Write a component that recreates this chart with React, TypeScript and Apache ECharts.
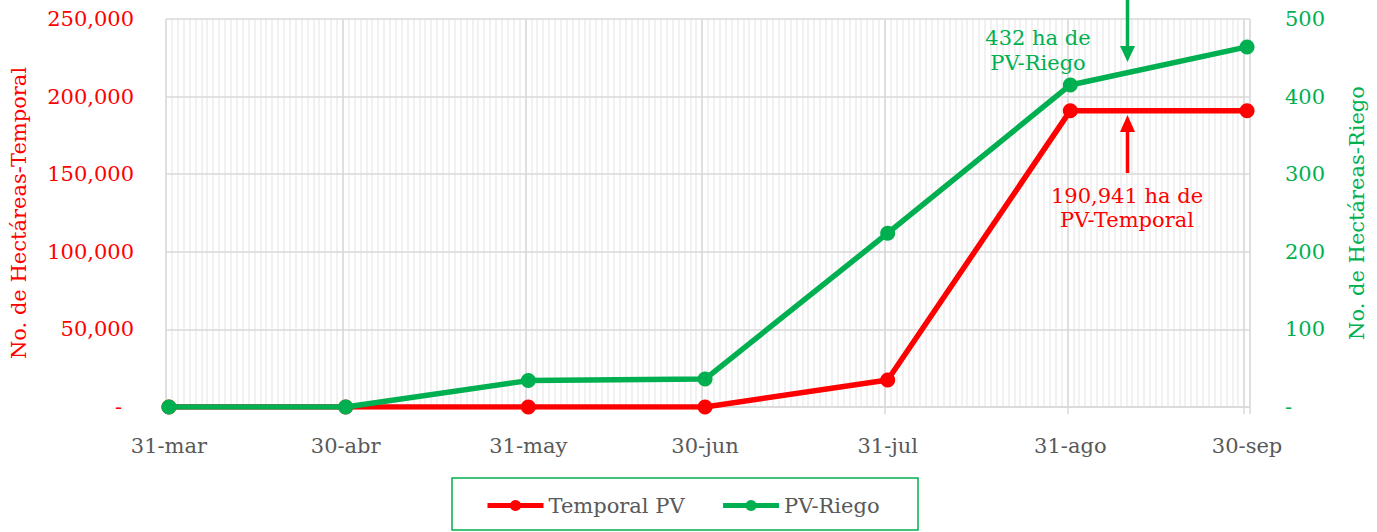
import React, { useEffect, useRef } from "react";
import * as echarts from "echarts";

// Month-end dates shown on the axis
const dates = ["31-mar", "30-abr", "31-may", "30-jun", "31-jul", "31-ago", "30-sep"];
// Hectares, temporal (left axis)
const temporalPV = [0, 0, 0, 0, 17400, 190941, 190941];
// Hectares, riego (right axis)
const pvRiego = [0, 0, 34, 36, 224, 415, 464];

const leftTicks = { min: 0, max: 250000, interval: 50000 };
const rightTicks = { min: 0, max: 500, interval: 100 };

const monthAbbr = ["ene", "feb", "mar", "abr", "may", "jun", "jul", "ago", "sep", "oct", "nov", "dic"];

// Daily categories from 31-mar to 30-sep (axis infrastructure)
function buildDays(): string[] {
  const out: string[] = [];
  const start = new Date(2023, 2, 31);
  const end = new Date(2023, 8, 30);
  for (let d = new Date(start); d <= end; d.setDate(d.getDate() + 1)) {
    out.push(`${d.getDate()}-${monthAbbr[d.getMonth()]}`);
  }
  return out;
}

const RED = "#FF0000";
const GREEN = "#00B050";
const GRAY = "#595959";
const FONT = "DejaVu Serif";
const FS = 21;

export default function App() {
  const ref = useRef<HTMLDivElement>(null);
  useEffect(() => {
    if (!ref.current) return;
    const chart = echarts.init(ref.current, undefined, { renderer: "svg" });
    const days = buildDays();
    const isMajor = (_i: number, v: string) => dates.includes(v);
    const fmt = (v: number) => (v === 0 ? "{d|-}" : v.toLocaleString("en-US"));

    chart.setOption({
      animation: false,
      textStyle: { fontFamily: FONT },
      grid: { left: 165, right: 127, top: 19, bottom: 125, containLabel: false },
      xAxis: [
        {
          type: "category",
          data: days,
          boundaryGap: true,
          z: 1,
          axisLine: { show: true, lineStyle: { color: "#D9D9D9", width: 1.5 } },
          axisTick: { show: true, interval: isMajor, length: 7, lineStyle: { color: "#D9D9D9", width: 1.5 } },
          axisLabel: {
            interval: isMajor,
            color: GRAY,
            fontFamily: FONT,
            fontSize: FS,
            margin: 28,
          },
          splitLine: { show: true, interval: isMajor, lineStyle: { color: "#D9D9D9", width: 1.5 } },
        },
        {
          type: "category",
          data: days,
          boundaryGap: true,
          position: "top",
          z: 0,
          axisLine: { show: false },
          axisTick: { show: false },
          axisLabel: { show: false },
          splitLine: { show: true, interval: 0, lineStyle: { color: "#EDEDED", width: 1.5 } },
        },
      ],
      yAxis: [
        {
          type: "value",
          ...leftTicks,
          z: 1,
          position: "left",
          name: "No. de Hectáreas-Temporal",
          nameLocation: "middle",
          nameGap: 137,
          nameTextStyle: { color: RED, fontSize: FS, fontFamily: FONT },
          axisLine: { show: false },
          axisTick: { show: false },
          axisLabel: {
            color: RED,
            fontSize: FS,
            fontFamily: FONT,
            margin: 32,
            formatter: fmt,
            rich: { d: { color: RED, fontSize: FS, fontFamily: FONT, padding: [0, 12, 0, 0] } },
          },
          splitLine: { show: true, lineStyle: { color: "#D9D9D9", width: 1.5 } },
        },
        {
          type: "value",
          ...rightTicks,
          position: "right",
          name: "No. de Hectáreas-Riego",
          nameLocation: "middle",
          nameGap: 96,
          nameTextStyle: { color: GREEN, fontSize: FS, fontFamily: FONT },
          axisLine: { show: false },
          axisTick: { show: false },
          axisLabel: {
            color: GREEN,
            fontSize: FS,
            fontFamily: FONT,
            margin: 35,
            formatter: (v: number) => (v === 0 ? "-" : String(v)),
          },
          splitLine: { show: false },
        },
      ],
      legend: {
        left: 480,
        top: 490,
        itemWidth: 56,
        itemHeight: 14,
        itemGap: 36,
        lineStyle: { width: 5 },
        textStyle: { color: GRAY, fontSize: FS, fontFamily: FONT },
        data: ["Temporal PV", "PV-Riego"],
      },
      series: [
        {
          name: "Temporal PV",
          type: "line",
          xAxisIndex: 0,
          yAxisIndex: 0,
          data: dates.map((d, i) => [d, temporalPV[i]]),
          symbol: "circle",
          symbolSize: 15,
          lineStyle: { color: RED, width: 5.5 },
          itemStyle: { color: RED },
          z: 3,
        },
        {
          name: "PV-Riego",
          type: "line",
          xAxisIndex: 0,
          yAxisIndex: 1,
          data: dates.map((d, i) => [d, pvRiego[i]]),
          symbol: "circle",
          symbolSize: 15,
          lineStyle: { color: GREEN, width: 5.5 },
          itemStyle: { color: GREEN },
          z: 4,
        },
      ],
      graphic: [
        {
          type: "rect",
          shape: { x: 452, y: 478, width: 466, height: 52 },
          style: { fill: "none", stroke: GREEN, lineWidth: 1.5 },
        },
        // green arrow (down)
        { type: "line", z: 10, shape: { x1: 1127.5, y1: 0, x2: 1127.5, y2: 48 }, style: { stroke: GREEN, lineWidth: 3.5 } },
        {
          type: "polygon",
          z: 10,
          shape: { points: [[1120, 46], [1135, 46], [1127.5, 62]] },
          style: { fill: GREEN, stroke: "none" },
        },
        // red arrow (up)
        { type: "line", z: 10, shape: { x1: 1127.5, y1: 173, x2: 1127.5, y2: 130 }, style: { stroke: RED, lineWidth: 3.5 } },
        {
          type: "polygon",
          z: 10,
          shape: { points: [[1120, 132], [1135, 132], [1127.5, 115]] },
          style: { fill: RED, stroke: "none" },
        },
        {
          type: "text",
          z: 10,
          x: 1038,
          y: 50,
          style: {
            text: "432 ha de\nPV-Riego",
            fill: GREEN,
            stroke: "none",
            lineWidth: 0,
            fontFamily: FONT,
            fontSize: FS,
            align: "center",
            verticalAlign: "middle",
            lineHeight: 25,
          },
        },
        {
          type: "text",
          z: 10,
          x: 1127,
          y: 208,
          style: {
            text: "190,941 ha de\nPV-Temporal",
            fill: RED,
            stroke: "none",
            lineWidth: 0,
            fontFamily: FONT,
            fontSize: FS,
            align: "center",
            verticalAlign: "middle",
            lineHeight: 24,
          },
        },
      ],
    });
    return () => chart.dispose();
  }, []);
  return (
    <div
      ref={ref}
      style={{ position: "fixed", left: 0, top: 0, width: 1377, height: 532, background: "#fff" }}
    />
  );
}
